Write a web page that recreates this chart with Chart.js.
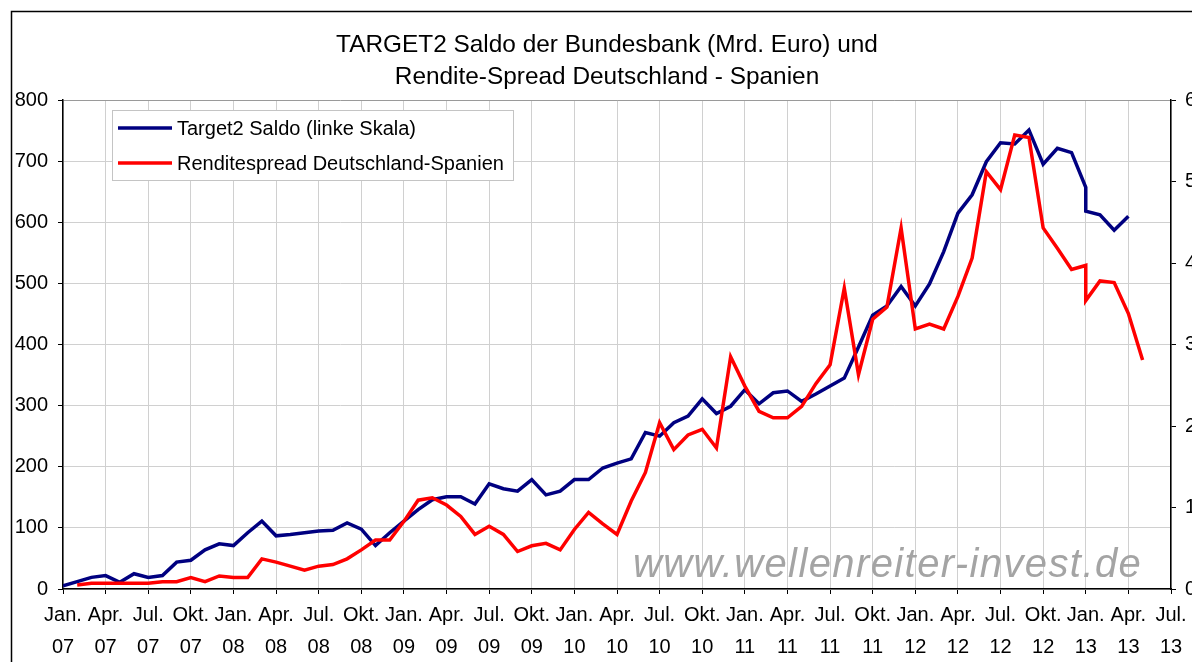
<!DOCTYPE html>
<html>
<head>
<meta charset="utf-8">
<title>TARGET2 Saldo und Rendite-Spread</title>
<script src="https://cdn.jsdelivr.net/npm/chart.js@4.4.1/dist/chart.umd.min.js"></script>
<style>
  html, body { margin: 0; padding: 0; background: #fff; }
</style>
</head>
<body>
<canvas id="T2Chart" width="1192" height="662"></canvas>
<script>
// data (months counted from Jan. 2007; Jan. 2013 has two readings)
const titleLines = ['TARGET2 Saldo der Bundesbank (Mrd. Euro) und', 'Rendite-Spread Deutschland - Spanien'];
const watermark = 'www.wellenreiter-invest.de';

const quarterTicks = [
	['Jan.', '07'], ['Apr.', '07'], ['Jul.', '07'], ['Okt.', '07'],
	['Jan.', '08'], ['Apr.', '08'], ['Jul.', '08'], ['Okt.', '08'],
	['Jan.', '09'], ['Apr.', '09'], ['Jul.', '09'], ['Okt.', '09'],
	['Jan.', '10'], ['Apr.', '10'], ['Jul.', '10'], ['Okt.', '10'],
	['Jan.', '11'], ['Apr.', '11'], ['Jul.', '11'], ['Okt.', '11'],
	['Jan.', '12'], ['Apr.', '12'], ['Jul.', '12'], ['Okt.', '12'],
	['Jan.', '13'], ['Apr.', '13'], ['Jul.', '13']
];

const saldoLabel = 'Target2 Saldo (linke Skala)';
const saldoMonths = [
	0, 1, 2, 3, 4, 5, 6, 7, 8, 9, 10, 11,
	12, 13, 14, 15, 16, 17, 18, 19, 20, 21, 22, 23,
	24, 25, 26, 27, 28, 29, 30, 31, 32, 33, 34, 35,
	36, 37, 38, 39, 40, 41, 42, 43, 44, 45, 46, 47,
	48, 49, 50, 51, 52, 53, 54, 55, 56, 57, 58, 59,
	60, 61, 62, 63, 64, 65, 66, 67, 68, 69, 70, 71,
	72, 72, 73, 74, 75
];
const saldoValues = [
	5, 12, 19, 22, 11, 25, 19, 22, 44, 47, 64, 74,
	71, 92, 111, 87, 89, 92, 95, 96, 108, 98, 71, 92,
	111, 130, 146, 151, 151, 139, 172, 164, 160, 179, 154, 160,
	179, 179, 198, 206, 213, 256, 250, 272, 283, 311, 287, 299,
	326, 303, 321, 324, 307, 319, 332, 345, 396, 448, 463, 495,
	463, 499, 552, 615, 645, 699, 730, 728, 751, 695, 721, 714,
	657, 618, 612, 587, 610
];

const spreadLabel = 'Renditespread Deutschland-Spanien';
const spreadMonths = [
	1, 2, 3, 4, 5, 6, 7, 8, 9, 10, 11,
	12, 13, 14, 15, 16, 17, 18, 19, 20, 21, 22, 23,
	24, 25, 26, 27, 28, 29, 30, 31, 32, 33, 34, 35,
	36, 37, 38, 39, 40, 41, 42, 43, 44, 45, 46, 47,
	48, 49, 50, 51, 52, 53, 54, 55, 56, 57, 58, 59,
	60, 61, 62, 63, 64, 65, 66, 67, 68, 69, 70, 71,
	72, 72, 73, 74, 75, 76
];
const spreadValues = [
	0.05, 0.07, 0.07, 0.07, 0.07, 0.07, 0.09, 0.09, 0.14, 0.09, 0.16,
	0.14, 0.14, 0.37, 0.33, 0.28, 0.23, 0.28, 0.30, 0.37, 0.48, 0.60, 0.60,
	0.83, 1.09, 1.12, 1.03, 0.89, 0.67, 0.77, 0.67, 0.46, 0.53, 0.56, 0.48,
	0.73, 0.94, 0.80, 0.67, 1.08, 1.43, 2.04, 1.71, 1.89, 1.96, 1.73, 2.85,
	2.49, 2.18, 2.10, 2.10, 2.24, 2.52, 2.75, 3.69, 2.63, 3.31, 3.46, 4.43,
	3.19, 3.25, 3.19, 3.59, 4.06, 5.12, 4.90, 5.57, 5.54, 4.43, 4.18, 3.92,
	3.97, 3.54, 3.78, 3.76, 3.38, 2.81
];

const FONT = '"Liberation Sans", Arial, sans-serif';
Chart.defaults.font.family = FONT;
Chart.defaults.color = '#000';

// frame, title, legend box and watermark, drawn on the canvas
const decor = {
	id: 'decor',
	beforeDatasetsDraw(chart) {
		const { ctx, chartArea: a } = chart;
		ctx.save();
		ctx.font = 'italic 40px ' + FONT;
		ctx.fillStyle = '#a4a4a4';
		ctx.letterSpacing = '1.4px';
		ctx.filter = 'blur(0.6px)';
		ctx.textBaseline = 'alphabetic';
		ctx.fillText(watermark, a.left + 570, a.bottom - 12);
		ctx.restore();
	},
	afterDraw(chart) {
		const { ctx, chartArea: a } = chart;
		ctx.save();
		// title, centred over the outer frame
		ctx.fillStyle = '#000';
		ctx.font = '24.4px ' + FONT;
		ctx.textAlign = 'center';
		ctx.textBaseline = 'middle';
		titleLines.forEach((t, i) => ctx.fillText(t, 607, 45 + i * 32));

		// legend
		ctx.textAlign = 'left';
		const bx = a.left + 49, by = a.top + 10, bw = 401, bh = 70;
		ctx.fillStyle = '#fff';
		ctx.fillRect(bx, by, bw, bh);
		ctx.strokeStyle = '#c4c4c4';
		ctx.lineWidth = 1;
		ctx.strokeRect(bx + 0.5, by + 0.5, bw, bh);
		chart.data.datasets.forEach((ds, i) => {
			const y = by + 18 + i * 35;
			ctx.strokeStyle = ds.borderColor;
			ctx.lineWidth = 3.5;
			ctx.beginPath();
			ctx.moveTo(bx + 6, y);
			ctx.lineTo(bx + 60, y);
			ctx.stroke();
			ctx.fillStyle = '#000';
			ctx.font = '20px ' + FONT;
			ctx.fillText(ds.label, bx + 65, y + 1);
		});

		// outer frame
		ctx.strokeStyle = '#000';
		ctx.lineWidth = 1.5;
		ctx.strokeRect(11.5, 11.5, 1300, 800);
		ctx.restore();
	}
};

const ctx = document.getElementById('T2Chart').getContext('2d');

const t2Chart = new Chart(ctx, {
	type: 'line',
	data: {
		datasets: [{
			label: saldoLabel,
			data: saldoMonths.map((m, i) => ({ x: m, y: saldoValues[i] })),
			borderColor: '#000080',
			borderWidth: 3.5,
			yAxisID: 'y',
			order: 1
		}, {
			label: spreadLabel,
			data: spreadMonths.map((m, i) => ({ x: m, y: spreadValues[i] })),
			borderColor: '#ff0000',
			borderWidth: 3.5,
			yAxisID: 'y1',
			order: 0
		}]
	},
	options: {
		responsive: false,
		animation: false,
		devicePixelRatio: 1,
		layout: { padding: { top: 100 } },
		elements: {
			point: { radius: 0, hoverRadius: 0 },
			line: { tension: 0, fill: false }
		},
		plugins: {
			legend: { display: false },
			tooltip: { enabled: false },
			title: { display: false }
		},
		scales: {
			x: {
				type: 'linear',
				min: 0,
				max: 78,
				afterFit: (s) => { s.height = 73; },
				ticks: {
					stepSize: 3,
					autoSkip: false,
					maxRotation: 0,
					padding: 5,
					font: { size: 20, lineHeight: 1.6 },
					callback: (v, i) => quarterTicks[i]
				},
				grid: { color: '#d0d0d0', tickColor: '#000', tickLength: 5 },
				border: { color: '#000', width: 1.5 }
			},
			y: {
				position: 'left',
				min: 0,
				max: 800,
				afterFit: (s) => { s.width = 63; },
				ticks: { stepSize: 100, padding: 10, font: { size: 20 } },
				grid: {
					color: (c) => (c.tick && c.tick.value === 800 ? '#9a9a9a' : '#d0d0d0'),
					tickColor: '#000',
					tickLength: 5
				},
				border: { color: '#000', width: 1.5 }
			},
			y1: {
				position: 'right',
				min: 0,
				max: 6,
				afterFit: (s) => { s.width = 21; },
				ticks: { stepSize: 1, padding: 9, font: { size: 20 } },
				grid: { drawOnChartArea: false, tickColor: '#000', tickLength: 5 },
				border: { color: '#000', width: 1.5 }
			}
		}
	},
	plugins: [decor]
});
</script>
</body>
</html>
